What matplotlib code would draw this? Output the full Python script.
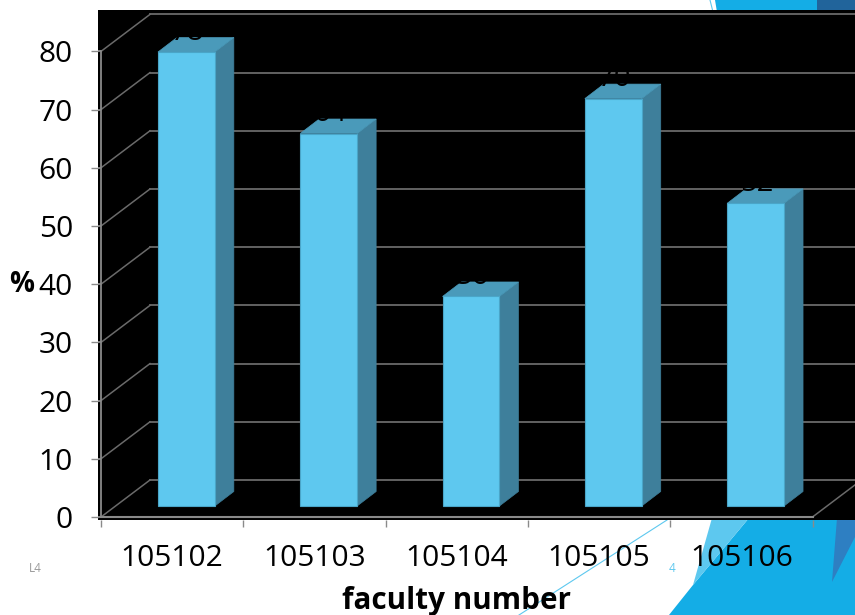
import matplotlib
matplotlib.use("Agg")
import matplotlib.pyplot as plt
from matplotlib.patches import Polygon

plt.rcParams["font.family"] = ["Open Sans", "DejaVu Sans"]

# Donnees du graphique
faculties = ["105102", "105103", "105104", "105105", "105106"]
percent = [78, 64, 36, 70, 52]
y_ticks = [0, 10, 20, 30, 40, 50, 60, 70, 80]

W, H = 855, 615
# Echelle en pixels de l'axe principal
X0_PX, CAT_PX = 101, 142.3
Y0_PX, UNIT_PX = 517, 5.82
LEFT_PX, RIGHT_PX, TOP_PX, BOTTOM_PX = 98, 855, 10, 520

# Profondeur du mur du fond et des barres, en unites de donnees
WALL_DX, WALL_DY = 49 / CAT_PX, 37 / UNIT_PX
BAR_DX, BAR_DY = 19 / CAT_PX, 14.5 / UNIT_PX
BAR_START, BAR_WIDTH = 0.40, 0.40
BAR_BASE = 11 / UNIT_PX

FRONT = "#5ec8ef"
SIDE = "#3e7f9b"
TOP = "#4a9aba"
EDGE = "#4aa5c8"
GRID = "#6a6a6a"
AXIS = "#8a8a8a"

fig = plt.figure(figsize=(W / 100, H / 100), dpi=100, facecolor="white")

# Fond de la diapositive, en pixels
bg = fig.add_axes([0, 0, 1, 1], zorder=0)
bg.set_xlim(0, W)
bg.set_ylim(H, 0)
bg.axis("off")
bg.add_patch(Polygon([(715, 0), (817, 0), (817, 12), (717, 12)], color="#14ade6", lw=0))
bg.add_patch(Polygon([(817, 0), (855, 0), (855, 12), (817, 12)], color="#21649b", lw=0))
bg.plot([710, 713], [0, 12], color="#5dc8ef", lw=0.8)
bg.add_patch(Polygon([(669, 615), (693, 585), (749, 518), (855, 518), (855, 615)], color="#14ade6", lw=0))
bg.add_patch(Polygon([(712, 518), (693, 585), (749, 518)], color="#5dc8ef", lw=0))
bg.add_patch(Polygon([(837, 518), (832, 582), (855, 537), (855, 518)], color="#2e7fc2", lw=0))
bg.plot([667, 519], [520, 615], color="#5dc8ef", lw=0.8)
bg.text(35, 568.5, "L4", color="#9a9a9a", fontsize=8.5, ha="center", va="center")
bg.text(672, 568.5, "4", color="#5dc8ef", fontsize=8.5, ha="center", va="center")

# Axe principal : fond noir
ax = fig.add_axes([LEFT_PX / W, 1 - BOTTOM_PX / H, (RIGHT_PX - LEFT_PX) / W, (BOTTOM_PX - TOP_PX) / H],
                  zorder=1, facecolor="black")
ax.set_xlim((LEFT_PX - X0_PX) / CAT_PX, (RIGHT_PX - X0_PX) / CAT_PX)
ax.set_ylim((Y0_PX - BOTTOM_PX) / UNIT_PX, (Y0_PX - TOP_PX) / UNIT_PX)
for spine in ax.spines.values():
    spine.set_visible(False)

n = len(faculties)
x_end = ax.get_xlim()[1]

# Grille : mur du fond et diagonales du mur gauche
for v in y_ticks:
    ax.plot([0, WALL_DX], [v, v + WALL_DY], color=GRID, lw=1.1, zorder=1)
    ax.plot([WALL_DX, x_end], [v + WALL_DY, v + WALL_DY], color=GRID, lw=1.3, zorder=1)
ax.plot([n, n + WALL_DX], [0, WALL_DY], color=GRID, lw=1.1, zorder=1)

# Axes avant
ax.plot([0, 0], [0, y_ticks[-1]], color=AXIS, lw=1.3, zorder=2)
ax.plot([0, n], [0, 0], color=AXIS, lw=1.5, zorder=2)
ax.hlines(y_ticks, ax.get_xlim()[0], 0, color=AXIS, lw=1.3, zorder=2)

# Barres en fausse 3D
for i, value in enumerate(percent):
    x1 = i + BAR_START
    x2 = x1 + BAR_WIDTH
    top = BAR_BASE + value
    ax.fill([x2, x2 + BAR_DX, x2 + BAR_DX, x2],
            [BAR_BASE, BAR_BASE + BAR_DY, top + BAR_DY, top],
            facecolor=SIDE, edgecolor=SIDE, lw=0.5, zorder=3)
    ax.fill([x1, x2, x2 + BAR_DX, x1 + BAR_DX],
            [top, top, top + BAR_DY, top + BAR_DY],
            facecolor=TOP, edgecolor=TOP, lw=0.5, zorder=3)
    ax.bar(x1, value, width=BAR_WIDTH, bottom=BAR_BASE, align="edge",
           facecolor=FRONT, edgecolor=EDGE, lw=0.8, zorder=4)
    # Etiquette noire, visible seulement sur la face superieure
    ax.text(x1 + BAR_WIDTH / 2 + 0.01, top + 12.5 / UNIT_PX, str(value), color="black",
            fontsize=21, ha="center", va="baseline", zorder=5)

# Graduations et libelles
ax.set_yticks(y_ticks)
ax.tick_params(axis="y", length=5, width=1, color=AXIS, labelsize=21.5, pad=13)
ax.set_xticks(range(n + 1))
ax.set_xticklabels([])
ax.tick_params(axis="x", which="major", length=5, width=1, color=AXIS)
ax.set_xticks([i + 0.5 for i in range(n)], minor=True)
ax.set_xticklabels(faculties, minor=True)
ax.tick_params(axis="x", which="minor", length=0, labelsize=21.5, pad=17.5)

ax.text(2.5, (Y0_PX - 600.5) / UNIT_PX, "faculty number", fontsize=21.3, fontweight="bold",
        ha="center", va="center", clip_on=False)
bg.text(22, 285, "%", fontsize=20, fontweight="bold", ha="center", va="center")

plt.savefig("out.png", dpi=100)
